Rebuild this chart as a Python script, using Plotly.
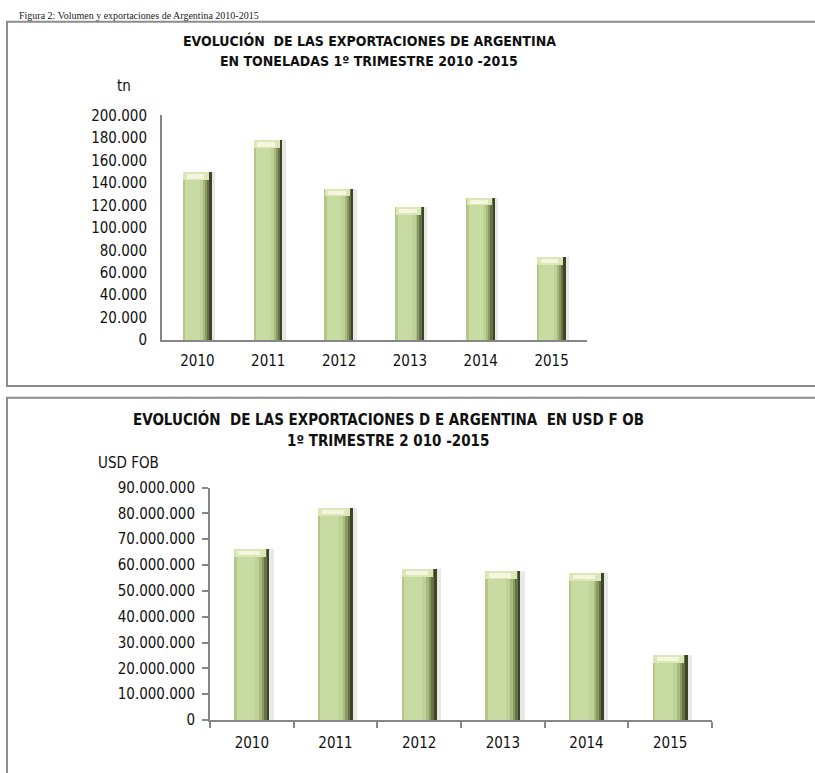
import plotly.graph_objects as go

# datos
years = ["2010", "2011", "2012", "2013", "2014", "2015"]
toneladas = [149000, 177500, 134500, 118300, 126400, 73600]
usd_fob = [66500000, 82300000, 58600000, 57700000, 57200000, 25300000]

tn_ticks = [0, 20000, 40000, 60000, 80000, 100000, 120000, 140000, 160000, 180000, 200000]
usd_ticks = [0, 10000000, 20000000, 30000000, 40000000, 50000000,
             60000000, 70000000, 80000000, 90000000]

W, H = 815, 773
FONT = "Liberation Sans Narrow, Arial Narrow, DejaVu Sans Condensed, sans-serif"
AXIS = "#868686"
BORDER = "#8c8c8c"


def px(x):
    return x / W


def py(y):
    return 1 - y / H


# franjas verticales para imitar el bisel de Excel (fraccion del ancho, color)
stripes = [
    (0.00, 0.07, "#b4c68a"),
    (0.07, 0.58, "#c8dba3"),
    (0.58, 0.70, "#bfd197"),
    (0.70, 0.78, "#a8b97e"),
    (0.78, 0.85, "#8a9862"),
    (0.85, 0.92, "#667146"),
    (0.92, 1.00, "#3e4526"),
]


def add_bars(fig, values, xa, ya, bw, cap_h):
    # sombra suave a la derecha
    fig.add_trace(go.Bar(x=years, y=values, width=bw * 0.12, offset=bw / 2,
                         marker=dict(color="rgba(90,90,90,0.14)", line_width=0),
                         xaxis=xa, yaxis=ya, hoverinfo="skip", showlegend=False))
    for s, e, c in stripes:
        fig.add_trace(go.Bar(x=years, y=values, width=(e - s) * bw, offset=-bw / 2 + s * bw,
                             marker=dict(color=c, line_width=0),
                             xaxis=xa, yaxis=ya, hoverinfo="skip", showlegend=False))
    # tapa superior clara
    fig.add_trace(go.Bar(x=years, y=[cap_h] * len(values), base=[v - cap_h for v in values],
                         width=bw * 0.9, offset=-bw / 2,
                         marker=dict(color="#dce7b8", line_width=0),
                         xaxis=xa, yaxis=ya, hoverinfo="skip", showlegend=False))
    fig.add_trace(go.Bar(x=years, y=[cap_h * 0.55] * len(values),
                         base=[v - cap_h * 0.8 for v in values],
                         width=bw * 0.62, offset=-bw / 2 + bw * 0.12,
                         marker=dict(color="#f5f6df", line_width=0),
                         xaxis=xa, yaxis=ya, hoverinfo="skip", showlegend=False))


fig = go.Figure()
add_bars(fig, toneladas, "x", "y", 0.40, 200000 * 8 / 230)
add_bars(fig, usd_fob, "x2", "y2", 0.42, 90000000 * 8 / 238)

tick_font = dict(family=FONT, size=15, color="#111")

fig.update_layout(
    width=W, height=H,
    margin=dict(l=0, r=0, t=0, b=0),
    paper_bgcolor="white", plot_bgcolor="rgba(0,0,0,0)",
    barmode="overlay", bargap=0,
    separators=",.",
    showlegend=False,
    xaxis=dict(domain=[px(162), px(587)], anchor="y", type="category",
               range=[-0.5, 5.5], showline=True, linecolor=AXIS, linewidth=2,
               ticks="", showgrid=False, zeroline=False, tickfont=tick_font,
               ticklabelstandoff=6, fixedrange=True),
    yaxis=dict(domain=[py(339), py(109)], anchor="x", range=[0, 200000],
               tickvals=tn_ticks, tickformat=",d", showline=True, linecolor=AXIS,
               linewidth=2, ticks="", showgrid=False, zeroline=False,
               tickfont=tick_font, ticklabelstandoff=10, fixedrange=True),
    xaxis2=dict(domain=[px(210), px(712)], anchor="y2", type="category",
                range=[-0.5, 5.5], showline=True, linecolor=AXIS, linewidth=2,
                ticks="outside", ticklen=6, tickcolor=AXIS, tickwidth=1.5,
                tickson="boundaries", showgrid=False, zeroline=False,
                tickfont=tick_font, ticklabelstandoff=8, fixedrange=True),
    yaxis2=dict(domain=[py(728), py(490)], anchor="x2", range=[0, 90000000],
                tickvals=usd_ticks, tickformat=",d", showline=True, linecolor=AXIS,
                linewidth=2, ticks="outside", ticklen=6, tickcolor=AXIS, tickwidth=1.5,
                showgrid=False, zeroline=False, tickfont=tick_font,
                ticklabelstandoff=4, fixedrange=True),
)

# marcos de los dos graficos
fig.add_shape(type="rect", xref="paper", yref="paper",
              x0=px(7), x1=px(830), y0=py(386), y1=py(13),
              line=dict(color=BORDER, width=2), fillcolor="rgba(0,0,0,0)", layer="below")
fig.add_shape(type="rect", xref="paper", yref="paper",
              x0=px(7), x1=px(830), y0=py(790), y1=py(398),
              line=dict(color=BORDER, width=2), fillcolor="rgba(0,0,0,0)", layer="below")

title_font = dict(family=FONT, size=14, color="#111")
title_font2 = dict(family=FONT, size=15, color="#111")
notes = [
    (369, 32, "<b>EVOLUCIÓN  DE LAS EXPORTACIONES DE ARGENTINA</b>", "center", title_font),
    (369, 53, "<b>EN TONELADAS 1º TRIMESTRE 2010 -2015</b>", "center", title_font),
    (124, 79, "tn", "center", tick_font),
    (388, 420, "<b>EVOLUCIÓN  DE LAS EXPORTACIONES D E ARGENTINA  EN USD F OB</b>", "center",
     title_font2),
    (388, 442, "<b>1º TRIMESTRE 2 010 -2015</b>", "center", title_font2),
    (128, 465, "USD FOB", "center", tick_font),
]
for x, y, txt, anchor, f in notes:
    fig.add_annotation(x=px(x), y=py(y), xref="paper", yref="paper", text=txt,
                       showarrow=False, xanchor=anchor, yanchor="middle", font=f)

# leyenda del documento, arriba del primer marco
fig.add_annotation(x=px(18), y=py(0), xref="paper", yref="paper",
                   text="Figura 2: Volumen y exportaciones de Argentina 2010-2015",
                   showarrow=False, xanchor="left", yanchor="top", borderpad=0,
                   font=dict(family="Liberation Serif, serif", size=10, color="#222"))

# sin margen en la pagina para que la figura ocupe la ventana exacta
fig.write_html("out.html", config={"displayModeBar": False},
               post_script="document.body.style.margin='0';"
                           "document.body.style.overflow='hidden';")
